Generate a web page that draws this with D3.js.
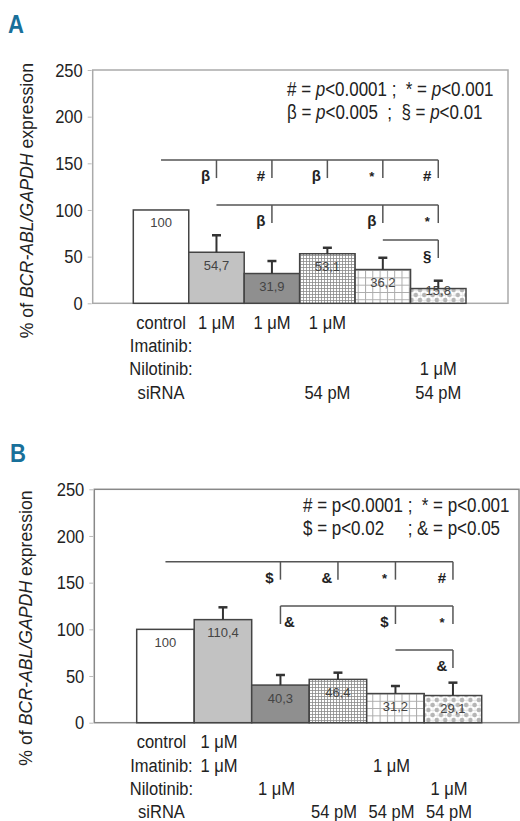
<!DOCTYPE html>
<html>
<head>
<meta charset="utf-8">
<script src="https://cdn.jsdelivr.net/npm/d3@7"></script>
<style>
	body { margin: 0; background: #fff; }
	svg { display: block; }
	text { white-space: pre; }
</style>
</head>
<body>
<svg id="chart" width="520" height="821"></svg>
<script>
// ---- data ----
var categories = ["control", "Imatinib", "Nilotinib", "siRNA", "Imatinib+siRNA", "Nilotinib+siRNA"];
var yTicks = [0, 50, 100, 150, 200, 250];

var valuesA = [100, 54.7, 31.9, 53.1, 36.2, 15.8];
var errorsA = [0, 18.2, 13.4, 6.4, 12.6, 8.4];
var valuesB = [100, 110.4, 40.3, 46.4, 31.2, 29.1];
var errorsB = [0, 13.2, 10.8, 7.2, 8.1, 13.8];

// significance brackets: level in % units, from/to = bar index, marks = [bar index, symbol]
var bracketsA = [
	{ level: 153.5, from: 0, to: 5, marks: [[1, "β"], [2, "#"], [3, "β"], [4, "*"], [5, "#"]] },
	{ level: 105.3, from: 1, to: 5, marks: [[2, "β"], [4, "β"], [5, "*"]] },
	{ level: 67.8, from: 4, to: 5, marks: [[5, "§"]] }
];
var bracketsB = [
	{ level: 172.5, from: 0, to: 5, marks: [[2, "$"], [3, "&"], [4, "*"], [5, "#"]] },
	{ level: 125, from: 2, to: 5, marks: [[2, "&"], [4, "$"], [5, "*"]] },
	{ level: 78, from: 4, to: 5, marks: [[5, "&"]] }
];

// legend lines, _x_ = italic
var legendA = ["# = _p_<0.0001 ;  * = _p_<0.001", "β = _p_<0.005  ;  § = _p_<0.01"];
var legendB = ["# = p<0.0001 ;  * = p<0.001", "$ = p<0.02     ; & = p<0.05"];

// treatment table under the bars, one entry per bar column
var tableA = [
	["control", "1 μM", "1 μM", "1 μM", "", ""],
	["Imatinib:", "", "", "", "", ""],
	["Nilotinib:", "", "", "", "", "1 μM"],
	["siRNA", "", "", "54 pM", "", "54 pM"]
];
var tableB = [
	["control", "1 μM", "", "", "", ""],
	["Imatinib:", "1 μM", "", "", "1 μM", ""],
	["Nilotinib:", "", "1 μM", "", "", "1 μM"],
	["siRNA", "", "", "54 pM", "54 pM", "54 pM"]
];

var yTitle = "% of _BCR-ABL/GAPDH_ expression";

// ---- styling ----
var font = "'Liberation Sans', Arial, sans-serif";
var SX = 0.87; // condensed look of the original typeface
var fills = ["#ffffff", "#c2c2c2", "#8f8f8f", "url(#finegrid)", "url(#coarsegrid)", "url(#dots)"];

var locale = d3.formatLocale({ decimal: ",", thousands: ".", grouping: [3], currency: ["", ""] });
function fmtVal(v) { return v % 1 ? locale.format(".1f")(v) : locale.format("d")(v); }

var svg = d3.select("#chart");
var defs = svg.append("defs");

// patterns
var p1 = defs.append("pattern").attr("id", "finegrid").attr("patternUnits", "userSpaceOnUse")
	.attr("width", 3).attr("height", 3);
p1.append("rect").attr("width", 3).attr("height", 3).attr("fill", "#fff");
p1.append("path").attr("d", "M0,0.5H3M0.5,0V3").attr("stroke", "#8a8a8a").attr("stroke-width", 0.8);

var p2 = defs.append("pattern").attr("id", "coarsegrid").attr("patternUnits", "userSpaceOnUse")
	.attr("width", 7.3).attr("height", 7.3);
p2.append("rect").attr("width", 7.3).attr("height", 7.3).attr("fill", "#fff");
p2.append("path").attr("d", "M0,0.5H7.3M0.5,0V7.3").attr("stroke", "#aaa").attr("stroke-width", 1);

var p3 = defs.append("pattern").attr("id", "dots").attr("patternUnits", "userSpaceOnUse")
	.attr("width", 8.4).attr("height", 10);
p3.append("rect").attr("width", 8.4).attr("height", 10).attr("fill", "#fff");
p3.append("path").attr("d", "M0,0.5H8.4M0,5.5H8.4M0.5,0V10M4.7,0V10").attr("stroke", "#e2e2e2").attr("stroke-width", 0.6);
[[0, 0], [8.4, 0], [0, 10], [8.4, 10], [4.2, 5]].forEach(function(c) {
	p3.append("circle").attr("cx", c[0]).attr("cy", c[1]).attr("r", 2.3).attr("fill", "#b5b5b5");
});

function richText(sel, str) {
	str.split("_").forEach(function(part, i) {
		if (!part) return;
		sel.append("tspan").attr("font-style", i % 2 ? "italic" : "normal").text(part);
	});
}

// condensed text placed at x,y
function ctext(g, x, y, size) {
	return g.append("text")
		.attr("transform", "translate(" + x + "," + y + ") scale(" + SX + ",1)")
		.attr("font-family", font).attr("font-size", size).attr("fill", "#222");
}

function drawPanel(cfg) {
	var g = svg.append("g");
	var x = d3.scaleBand().domain(categories).range([cfg.barLeft, cfg.barRight]).padding(0);
	var y = d3.scaleLinear().domain([0, 250]).range([cfg.bottom, cfg.top]);
	var cx = function(i) { return x(categories[i]) + x.bandwidth() / 2; };

	// panel letter
	g.append("text")
		.attr("transform", "translate(" + cfg.letterX + "," + cfg.letterY + ") scale(0.85,1)")
		.attr("font-family", font).attr("font-weight", "bold").attr("font-size", 26)
		.attr("fill", "#19709a").text(cfg.letter);

	// frame
	g.append("rect").attr("x", cfg.left).attr("y", cfg.top)
		.attr("width", cfg.right - cfg.left).attr("height", cfg.bottom - cfg.top)
		.attr("fill", "none").attr("stroke", cfg.frame).attr("stroke-width", 1.5);

	// y axis
	var ax = g.append("g").attr("transform", "translate(" + (cfg.left - 1) + ",0)")
		.call(d3.axisLeft(y).tickValues(yTicks).tickSize(4).tickPadding(5));
	ax.select(".domain").remove();
	ax.selectAll(".tick line").attr("stroke", "#bbb");
	ax.selectAll(".tick text")
		.attr("transform", function() { return "translate(" + this.getAttribute("x") + ",0) scale(" + SX + ",1)"; })
		.attr("x", 0)
		.attr("font-family", font).attr("font-size", 19).attr("fill", "#222");

	// y title
	var t = g.append("text")
		.attr("transform", "translate(" + cfg.titleX + "," + ((cfg.top + cfg.bottom) / 2 + cfg.titleShift) + ") rotate(-90)")
		.attr("text-anchor", "middle").attr("font-family", font).attr("font-size", 17.7).attr("fill", "#222");
	richText(t, yTitle);

	// legend
	cfg.legend.forEach(function(line, i) {
		richText(ctext(g, cfg.legendX, cfg.legendY + i * 23, 19.5), line);
	});

	// bars
	g.selectAll(".bar").data(cfg.values).join("rect")
		.attr("class", "bar")
		.attr("x", function(d, i) { return x(categories[i]); })
		.attr("y", function(d) { return y(d); })
		.attr("width", x.bandwidth())
		.attr("height", function(d) { return y(0) - y(d); })
		.attr("fill", function(d, i) { return fills[i]; })
		.attr("stroke", "#444").attr("stroke-width", 1.5);

	// value labels
	g.selectAll(".vlab").data(cfg.values).join("text")
		.attr("class", "vlab")
		.attr("x", function(d, i) { return cx(i); })
		.attr("y", function(d) { return Math.min(y(d) + 17.5, y(0) - 8); })
		.attr("text-anchor", "middle").attr("font-family", font).attr("font-size", 13)
		.attr("fill", "#444").text(fmtVal);

	// error bars
	cfg.values.forEach(function(v, i) {
		var e = cfg.errors[i];
		if (!e) return;
		g.append("line").attr("x1", cx(i)).attr("x2", cx(i)).attr("y1", y(v)).attr("y2", y(v + e))
			.attr("stroke", "#333").attr("stroke-width", 2);
		g.append("line").attr("x1", cx(i) - 4.5).attr("x2", cx(i) + 4.5).attr("y1", y(v + e)).attr("y2", y(v + e))
			.attr("stroke", "#333").attr("stroke-width", 2.5);
	});

	// significance brackets
	cfg.brackets.forEach(function(b) {
		var ly = y(b.level);
		g.append("line").attr("x1", cx(b.from)).attr("x2", cx(b.to)).attr("y1", ly).attr("y2", ly)
			.attr("stroke", "#555").attr("stroke-width", 1.5);
		b.marks.forEach(function(m) {
			var mx = cx(m[0]);
			g.append("line").attr("x1", mx).attr("x2", mx).attr("y1", ly).attr("y2", ly + 18)
				.attr("stroke", "#555").attr("stroke-width", 1.5);
			var right = m[0] === b.from;
			g.append("text").attr("x", right ? mx + 9 : mx - 11).attr("y", ly + 21)
				.attr("text-anchor", "middle").attr("font-family", font).attr("font-weight", "bold")
				.attr("font-size", m[1] === "*" ? 13 : 15).attr("fill", "#222").text(m[1]);
		});
	});

	// treatment table
	cfg.table.forEach(function(row, r) {
		row.forEach(function(s, i) {
			if (!s) return;
			ctext(g, cx(i) + cfg.tableShift, cfg.bottom + 25.5 + r * 23.3, 19)
				.attr("text-anchor", "middle").text(s);
		});
	});
}

drawPanel({
	letter: "A", letterX: 8, letterY: 33,
	left: 92.7, right: 508, top: 70, bottom: 303.3, barLeft: 133.3, barRight: 466,
	frame: "#aaa", titleX: 33, titleShift: 14,
	legendX: 287, legendY: 96, legend: legendA,
	values: valuesA, errors: errorsA, brackets: bracketsA, table: tableA, tableShift: 0
});

drawPanel({
	letter: "B", letterX: 10, letterY: 462,
	left: 94.3, right: 519, top: 489.3, bottom: 722.7, barLeft: 136.7, barRight: 481.7,
	frame: "#888", titleX: 32, titleShift: 22,
	legendX: 303, legendY: 512, legend: legendB,
	values: valuesB, errors: errorsB, brackets: bracketsB, table: tableB, tableShift: -4
});
</script>
</body>
</html>
